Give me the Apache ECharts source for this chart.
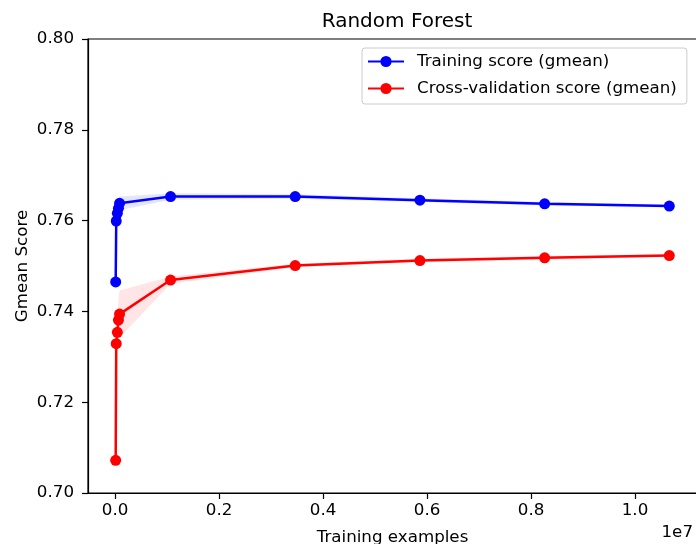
<!DOCTYPE html>
<html>
<head>
<meta charset="utf-8">
<script src="https://cdn.jsdelivr.net/npm/echarts@6/dist/echarts.min.js"></script>
<style>html,body{margin:0;padding:0;background:#fff;}#c{width:696px;height:544px;}</style>
</head>
<body>
<div id="c"></div>
<script>
const trainSizes = [10700, 21300, 42600, 64000, 85300, 1066000, 3464000, 5863000, 8262000, 10660000];
const trainMean = [0.7465, 0.7599, 0.7616, 0.7627, 0.7638, 0.7653, 0.7653, 0.7645, 0.7637, 0.7632];
const trainStd  = [0.0030, 0.0018, 0.0015, 0.0015, 0.0015, 0.0007, 0.0005, 0.0004, 0.0004, 0.0003];
const cvMean    = [0.7072, 0.7329, 0.7354, 0.7381, 0.7394, 0.7469, 0.7501, 0.7512, 0.7518, 0.7523];
const cvStd     = [0.0050, 0.0030, 0.0030, 0.0045, 0.0052, 0.0008, 0.0004, 0.0004, 0.0004, 0.0003];
const xTicks = [0, 2000000, 4000000, 6000000, 8000000, 10000000];
const yTicks = [0.70, 0.72, 0.74, 0.76, 0.78, 0.80];

const FONT = 'DejaVu Sans';
const FS = 16.7;
const chart = echarts.init(document.getElementById('c'));

function band(mean, std, color) {
  return {
    type: 'custom',
    z: 1,
    silent: true,
    data: [0],
    clip: true,
    renderItem: function (params, api) {
      const pts = [];
      for (let i = 0; i < trainSizes.length; i++) pts.push(api.coord([trainSizes[i], mean[i] + std[i]]));
      for (let i = trainSizes.length - 1; i >= 0; i--) pts.push(api.coord([trainSizes[i], mean[i] - std[i]]));
      return { type: 'polygon', shape: { points: pts }, style: { fill: color, opacity: 0.1 } };
    }
  };
}

chart.setOption({
  animation: false,
  backgroundColor: '#ffffff',
  textStyle: { fontFamily: FONT },
  title: {
    text: 'Random Forest', left: 392, top: 7, textAlign: 'center',
    textStyle: { fontFamily: FONT, fontSize: 20, fontWeight: 'normal', color: '#000' }
  },
  grid: { left: 88, top: 39, width: 609, height: 454, outerBoundsMode: 'none', containLabel: false,
    show: true, borderColor: '#000', borderWidth: 1.2, backgroundColor: 'transparent' },
  legend: {
    orient: 'vertical', left: 362, top: 48,
    data: ['Training score (gmean)', 'Cross-validation score (gmean)'],
    itemWidth: 36, itemHeight: 14, itemGap: 10,
    padding: [5, 10, 7, 5],
    backgroundColor: 'rgba(255,255,255,0.8)', borderColor: '#cccccc', borderWidth: 1, borderRadius: 3,
    textStyle: { fontFamily: FONT, fontSize: FS, lineHeight: 17, color: '#000', padding: [0, 0, 0, 8] }
  },
  xAxis: {
    type: 'value', min: -521800, max: 11192500,
    name: 'Training examples', nameLocation: 'middle', nameGap: 36,
    nameTextStyle: { fontFamily: FONT, fontSize: FS, color: '#000' },
    axisLine: { show: true, onZero: false, lineStyle: { color: '#000', width: 1.2 } },
    axisTick: { show: true, length: 6, lineStyle: { color: '#000', width: 1.2 }, customValues: xTicks },
    axisLabel: { margin: 9, fontFamily: FONT, fontSize: FS, color: '#000', customValues: xTicks,
      formatter: v => (v / 1e7).toFixed(1) },
    splitLine: { show: false }
  },
  yAxis: {
    type: 'value', min: 0.70, max: 0.80, interval: 0.02,
    name: 'Gmean Score', nameLocation: 'middle', nameGap: 57, nameMoveOverlap: false,
    nameTextStyle: { fontFamily: FONT, fontSize: FS, color: '#000' },
    axisLine: { show: true, onZero: false, lineStyle: { color: '#000', width: 1.2 } },
    axisTick: { show: true, length: 6, lineStyle: { color: '#000', width: 1.2 } },
    axisLabel: { margin: 14, fontFamily: FONT, fontSize: FS, color: '#000', formatter: v => v.toFixed(2) },
    splitLine: { show: false }
  },
  graphic: [{
    type: 'text', right: 3, top: 524,
    style: { text: '1e7', fontFamily: FONT, fontSize: FS, fill: '#000' }
  }],
  series: [
    band(trainMean, trainStd, '#0000ff'),
    band(cvMean, cvStd, '#ff0000'),
    {
      name: 'Training score (gmean)', type: 'line', z: 3,
      data: trainSizes.map((x, i) => [x, trainMean[i]]),
      symbol: 'circle', symbolSize: 11, showAllSymbol: true,
      lineStyle: { color: '#0000ff', width: 2.5 }, itemStyle: { color: '#0000ff' }
    },
    {
      name: 'Cross-validation score (gmean)', type: 'line', z: 3,
      data: trainSizes.map((x, i) => [x, cvMean[i]]),
      symbol: 'circle', symbolSize: 11, showAllSymbol: true,
      lineStyle: { color: '#ff0000', width: 2.5 }, itemStyle: { color: '#ff0000' }
    }
  ]
});
</script>
</body>
</html>
